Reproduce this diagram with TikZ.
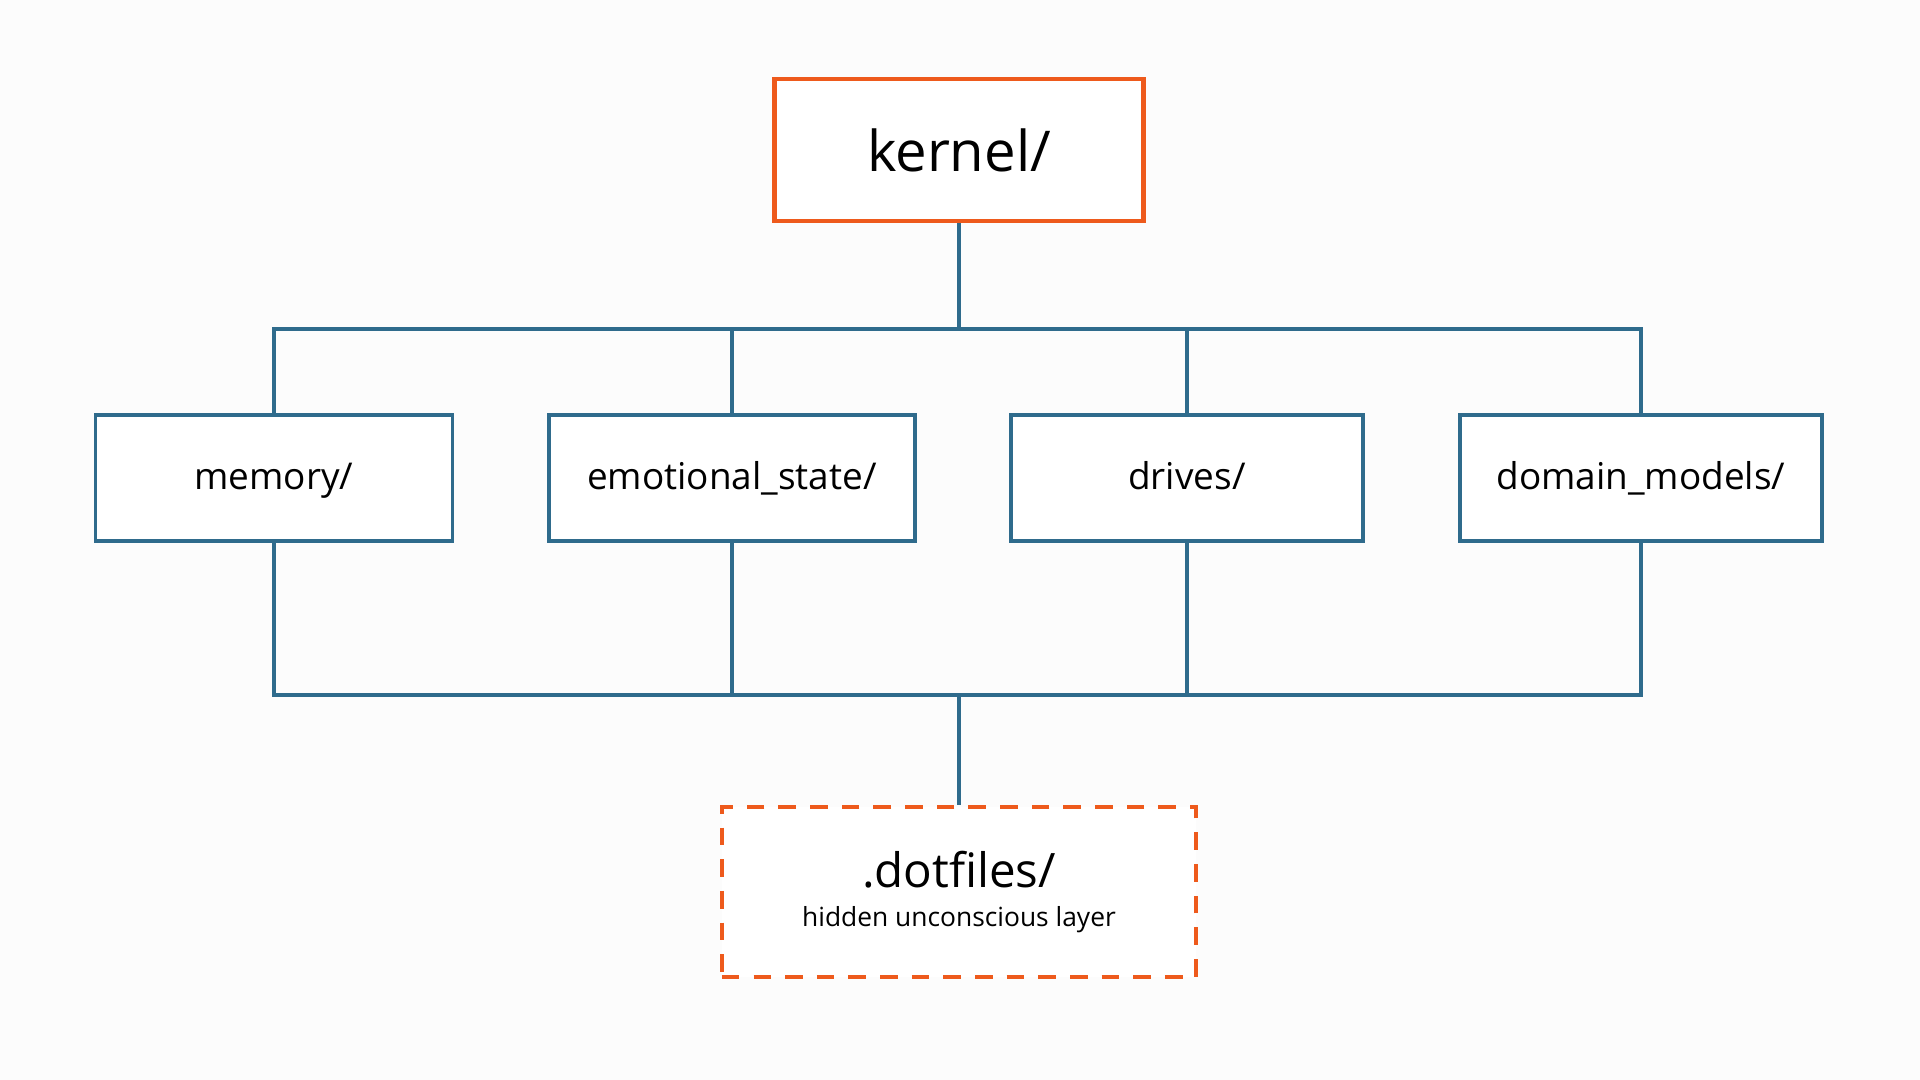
\documentclass[tikz,border=0pt]{standalone}
\usepackage{fontspec}
\setmainfont{Open Sans}
\usepackage{tikz}
\definecolor{kernelorange}{HTML}{EE5A1C}
\definecolor{treeblue}{HTML}{2F6B8C}
\definecolor{paper}{HTML}{FCFCFC}

\begin{document}
\begin{tikzpicture}
  [x=0.01cm,y=-0.01cm]
      \tikzstyle{dir_style} = [draw=treeblue, line width=1pt, fill=white, minimum height=1.26cm, text height=1.55ex, text depth=0.35ex, font=\fontsize{10.5}{12}\selectfont]
      \tikzstyle{edge_style} = [draw=treeblue, line width=0.9pt]
  \fill[paper] (0,0) rectangle (1920,1080);
  \useasboundingbox (0,0) rectangle (1920,1080);
  \node[draw=kernelorange, line width=1.3pt, fill=white, minimum width=3.69cm, minimum height=1.42cm, font=\fontsize{16}{18}\selectfont] (kernel) at (959,150) {kernel/};
  \node[dir_style, minimum width=3.57cm] (memory) at (274,478) {memory/};
  \node[dir_style, minimum width=3.66cm] (emotional) at (732,478) {emotional\_state/};
  \node[dir_style, minimum width=3.52cm] (drives) at (1187,478) {drives/};
  \node[dir_style, minimum width=3.62cm] (domain) at (1641,478) {domain\_models/};
  \node[draw=kernelorange, line width=1.1pt, dash pattern=on 5pt off 4pt, fill=white, minimum width=4.74cm, minimum height=1.70cm, align=center] (dotfiles) at (959,892)
    {{\fontsize{13.5}{15}\selectfont .dotfiles/}\\[-1pt]{\fontsize{7.5}{9}\selectfont hidden unconscious layer}};
  \coordinate (topbus) at (959,329);
  \coordinate (botbus) at (959,695);
  \draw[edge_style] (kernel) -- (topbus);
  \draw[edge_style] (topbus) -| (memory.north);
  \draw[edge_style] (topbus) -| (emotional.north);
  \draw[edge_style] (topbus) -| (drives.north);
  \draw[edge_style] (topbus) -| (domain.north);
  \draw[edge_style] (memory.south) |- (botbus);
  \draw[edge_style] (emotional.south) |- (botbus);
  \draw[edge_style] (drives.south) |- (botbus);
  \draw[edge_style] (domain.south) |- (botbus);
  \draw[edge_style] (botbus) -- (dotfiles);
\end{tikzpicture}
\end{document}
